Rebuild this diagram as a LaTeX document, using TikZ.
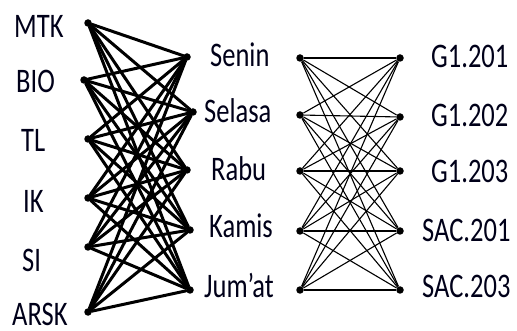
\documentclass[tikz,border=0pt]{standalone}
\usepackage{fontspec}
\setmainfont{Carlito}
\usepackage{graphicx}
\begin{document}
\begin{tikzpicture}[x=1pt,y=-1pt,
  lbl/.style={anchor=base west,inner sep=0pt,text=black!90!blue,font=\fontsize{26.5}{30}\selectfont},
  pt/.style={circle,fill=black,inner sep=0pt,minimum size=7.5pt},
  thick edge/.style={line width=3pt,line cap=round},
  thin edge/.style={line width=1.1pt}]
\useasboundingbox (0,0) rectangle (517,331);
% left graph vertices
\node[pt] (mtk) at (88,23) {};
\node[pt] (bio) at (84,80) {};
\node[pt] (tl) at (88,139) {};
\node[pt] (ik) at (88,198) {};
\node[pt] (si) at (88,247) {};
\node[pt] (arsk) at (88,312) {};
\node[pt] (sen) at (187,57) {};
\node[pt] (sel) at (193,112) {};
\node[pt] (rab) at (187,170) {};
\node[pt] (kam) at (190,230) {};
\node[pt] (jum) at (190,290) {};
\foreach \a in {mtk,bio,tl,ik,si,arsk}
  \foreach \b in {sen,sel,rab,kam,jum}
    \draw[thick edge] (\a) -- (\b);
% right graph vertices
\node[pt] (rsen) at (300,58) {};
\node[pt] (rsel) at (300,115) {};
\node[pt] (rrab) at (300,171) {};
\node[pt] (rkam) at (300,231) {};
\node[pt] (rjum) at (300,290) {};
\node[pt] (ga) at (400,58) {};
\node[pt] (gb) at (400,117) {};
\node[pt] (gc) at (400,171) {};
\node[pt] (sa) at (400,231) {};
\node[pt] (sb) at (400,290) {};
\foreach \a in {rsen,rsel,rrab,rkam,rjum}
  \foreach \b in {ga,gb,gc,sa,sb}
    \draw[thin edge] (\a) -- (\b);
% labels
\node[lbl] (lmtk) at (14,38) {\scalebox{1}[1.3]{MTK}};
\node[lbl] (lbio) at (16,93) {\scalebox{1}[1.3]{BIO}};
\node[lbl] (ltl) at (21,152) {\scalebox{1}[1.3]{TL}};
\node[lbl] (lik) at (23,213) {\scalebox{1}[1.3]{IK}};
\node[lbl] (lsi) at (22,272) {\scalebox{1}[1.3]{SI}};
\node[lbl] (larsk) at (12,325) {\scalebox{1}[1.3]{ARSK}};
\node[lbl] (lsen) at (210,67) {\scalebox{1}[1.3]{Senin}};
\node[lbl] (lsel) at (204,123) {\scalebox{1}[1.3]{Selasa}};
\node[lbl] (lrab) at (211,181) {\scalebox{1}[1.3]{Rabu}};
\node[lbl] (lkam) at (209,238) {\scalebox{1}[1.3]{Kamis}};
\node[lbl] (ljum) at (204,298) {\scalebox{1}[1.3]{Jum’at}};
\node[lbl] (lga) at (431,68) {\scalebox{1}[1.3]{G1.201}};
\node[lbl] (lgb) at (431,127) {\scalebox{1}[1.3]{G1.202}};
\node[lbl] (lgc) at (431,183) {\scalebox{1}[1.3]{G1.203}};
\node[lbl] (lsa) at (422,242) {\scalebox{1}[1.3]{SAC.201}};
\node[lbl] (lsb) at (422,298) {\scalebox{1}[1.3]{SAC.203}};
\end{tikzpicture}
\end{document}
